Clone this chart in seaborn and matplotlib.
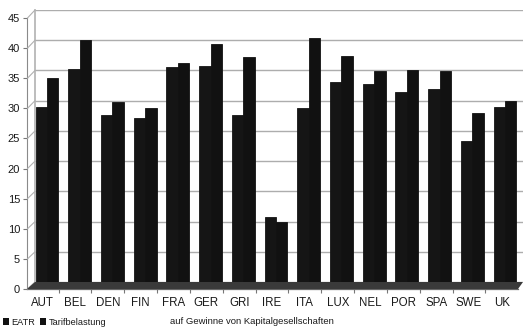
import matplotlib
matplotlib.use("Agg")
import matplotlib.pyplot as plt
from matplotlib.patches import Polygon, Patch
from matplotlib.lines import Line2D
import seaborn as sns
import pandas as pd

laender = ["AUT", "BEL", "DEN", "FIN", "FRA", "GER", "GRI", "IRE",
           "ITA", "LUX", "NEL", "POR", "SPA", "SWE", "UK"]
eatr = [28.9, 35.3, 27.6, 27.2, 35.6, 35.8, 27.7, 10.7,
        28.8, 33.1, 32.8, 31.5, 31.9, 23.4, 28.9]
tarif = [33.8, 40.1, 29.8, 28.8, 36.2, 39.3, 37.3, 10.0,
         40.3, 37.4, 34.9, 35.1, 34.9, 27.9, 30.0]
reihen = ["EATR", "Tarifbelastung"]
y_ticks = list(range(0, 50, 5))

df = pd.DataFrame({
    "Land": laender * 2,
    "Kennzahl": [reihen[0]] * len(laender) + [reihen[1]] * len(laender),
    "Wert": eatr + tarif,
})

sns.set_theme(style="white")
plt.rcParams["font.family"] = ["Liberation Sans", "DejaVu Sans"]

W, H = 523, 331
fig = plt.figure(figsize=(W / 100, H / 100), dpi=100)
fig.patch.set_facecolor("white")


def box(x0, y_top, w, h):
    return [x0 / W, (H - y_top - h) / H, w / W, h / H]


# back wall with gridlines
wall = fig.add_axes(box(35, 10, 488, 272))
wall.set_ylim(0, 45)
wall.set_yticks(y_ticks)
wall.set_xticks([])
wall.tick_params(left=False, labelleft=False)
wall.grid(axis="y", color="#adadad", lw=1.0)
for s in ["top", "right", "bottom"]:
    wall.spines[s].set_visible(False)
wall.spines["left"].set_color("#b5b5b5")
wall.set_facecolor("white")

# bars
ax = fig.add_axes(box(30.6, 10, 490.8, 272))
ax.patch.set_alpha(0)
sns.barplot(data=df, x="Land", y="Wert", hue="Kennzahl",
            palette=["#151515", "#111111"], width=0.7, ax=ax,
            legend=False, saturation=1, linewidth=0)
for p in ax.patches:
    p.set_edgecolor(p.get_facecolor())
    p.set_linewidth(0.6)
ax.set_xlim(-0.5, len(laender) - 0.5)
ax.set_ylim(0, 45)
ax.set_axis_off()

# front axes carrying the tick labels
front = fig.add_axes(box(27, 18, 491, 271))
front.patch.set_alpha(0)
front.set_ylim(0, 45)
front.set_xlim(-0.46, 14.49)
front.set_yticks(y_ticks)
front.set_xticks(range(len(laender)))
front.set_xticklabels(laender)
front.set_xticks([i + 0.5 for i in range(len(laender) - 1)], minor=True)
front.tick_params(axis="x", which="major", length=0, pad=6,
                  labelsize=8.3, labelcolor="#1a1a1a")
front.tick_params(axis="x", which="minor", length=3, color="#777777",
                  bottom=True, width=0.8)
front.tick_params(axis="y", length=3, color="#777777", pad=2,
                  labelsize=8, labelcolor="#1a1a1a", left=True, width=0.8)
for s in ["top", "right"]:
    front.spines[s].set_visible(False)
front.spines["left"].set_color("#8a8a8a")
front.spines["bottom"].set_color("#666666")
front.spines["left"].set_linewidth(0.8)
front.spines["bottom"].set_linewidth(0.9)

# floor between front edge and back wall
floor = Polygon([(27 / W, (H - 289) / H), (35 / W, (H - 282) / H),
                 (523 / W, (H - 282) / H), (518 / W, (H - 289) / H)],
                closed=True, transform=fig.transFigure,
                facecolor="#3a3a3a", edgecolor="none", zorder=5)
fig.add_artist(floor)

# side wall lines linking front ticks to back gridlines
inv = fig.transFigure.inverted()
for v in y_ticks:
    p_front = inv.transform(front.transData.transform((-0.46, v)))
    p_back = inv.transform(wall.transData.transform((wall.get_xlim()[0], v)))
    fig.add_artist(Line2D([p_front[0] + 0.5 / W, p_back[0]], [p_front[1], p_back[1]],
                          transform=fig.transFigure, color="#b0b0b0", lw=0.8))

# legend row
handles = [Patch(facecolor="#111111", edgecolor="none", label=r) for r in reihen]
leg = fig.legend(handles=handles, loc="lower left", bbox_to_anchor=(1 / W, 2 / H),
                 ncol=2, frameon=False, fontsize=6.6, handlelength=0.7,
                 handleheight=0.8, handletextpad=0.25, columnspacing=0.5,
                 borderaxespad=0, borderpad=0.2)
for t in leg.get_texts():
    t.set_color("#1a1a1a")
fig.text(170 / W, (H - 322) / H, "auf Gewinne von Kapitalgesellschaften",
         fontsize=6.8, color="#1a1a1a", va="center", ha="left")

fig.savefig("out.png", dpi=100, facecolor="white")
